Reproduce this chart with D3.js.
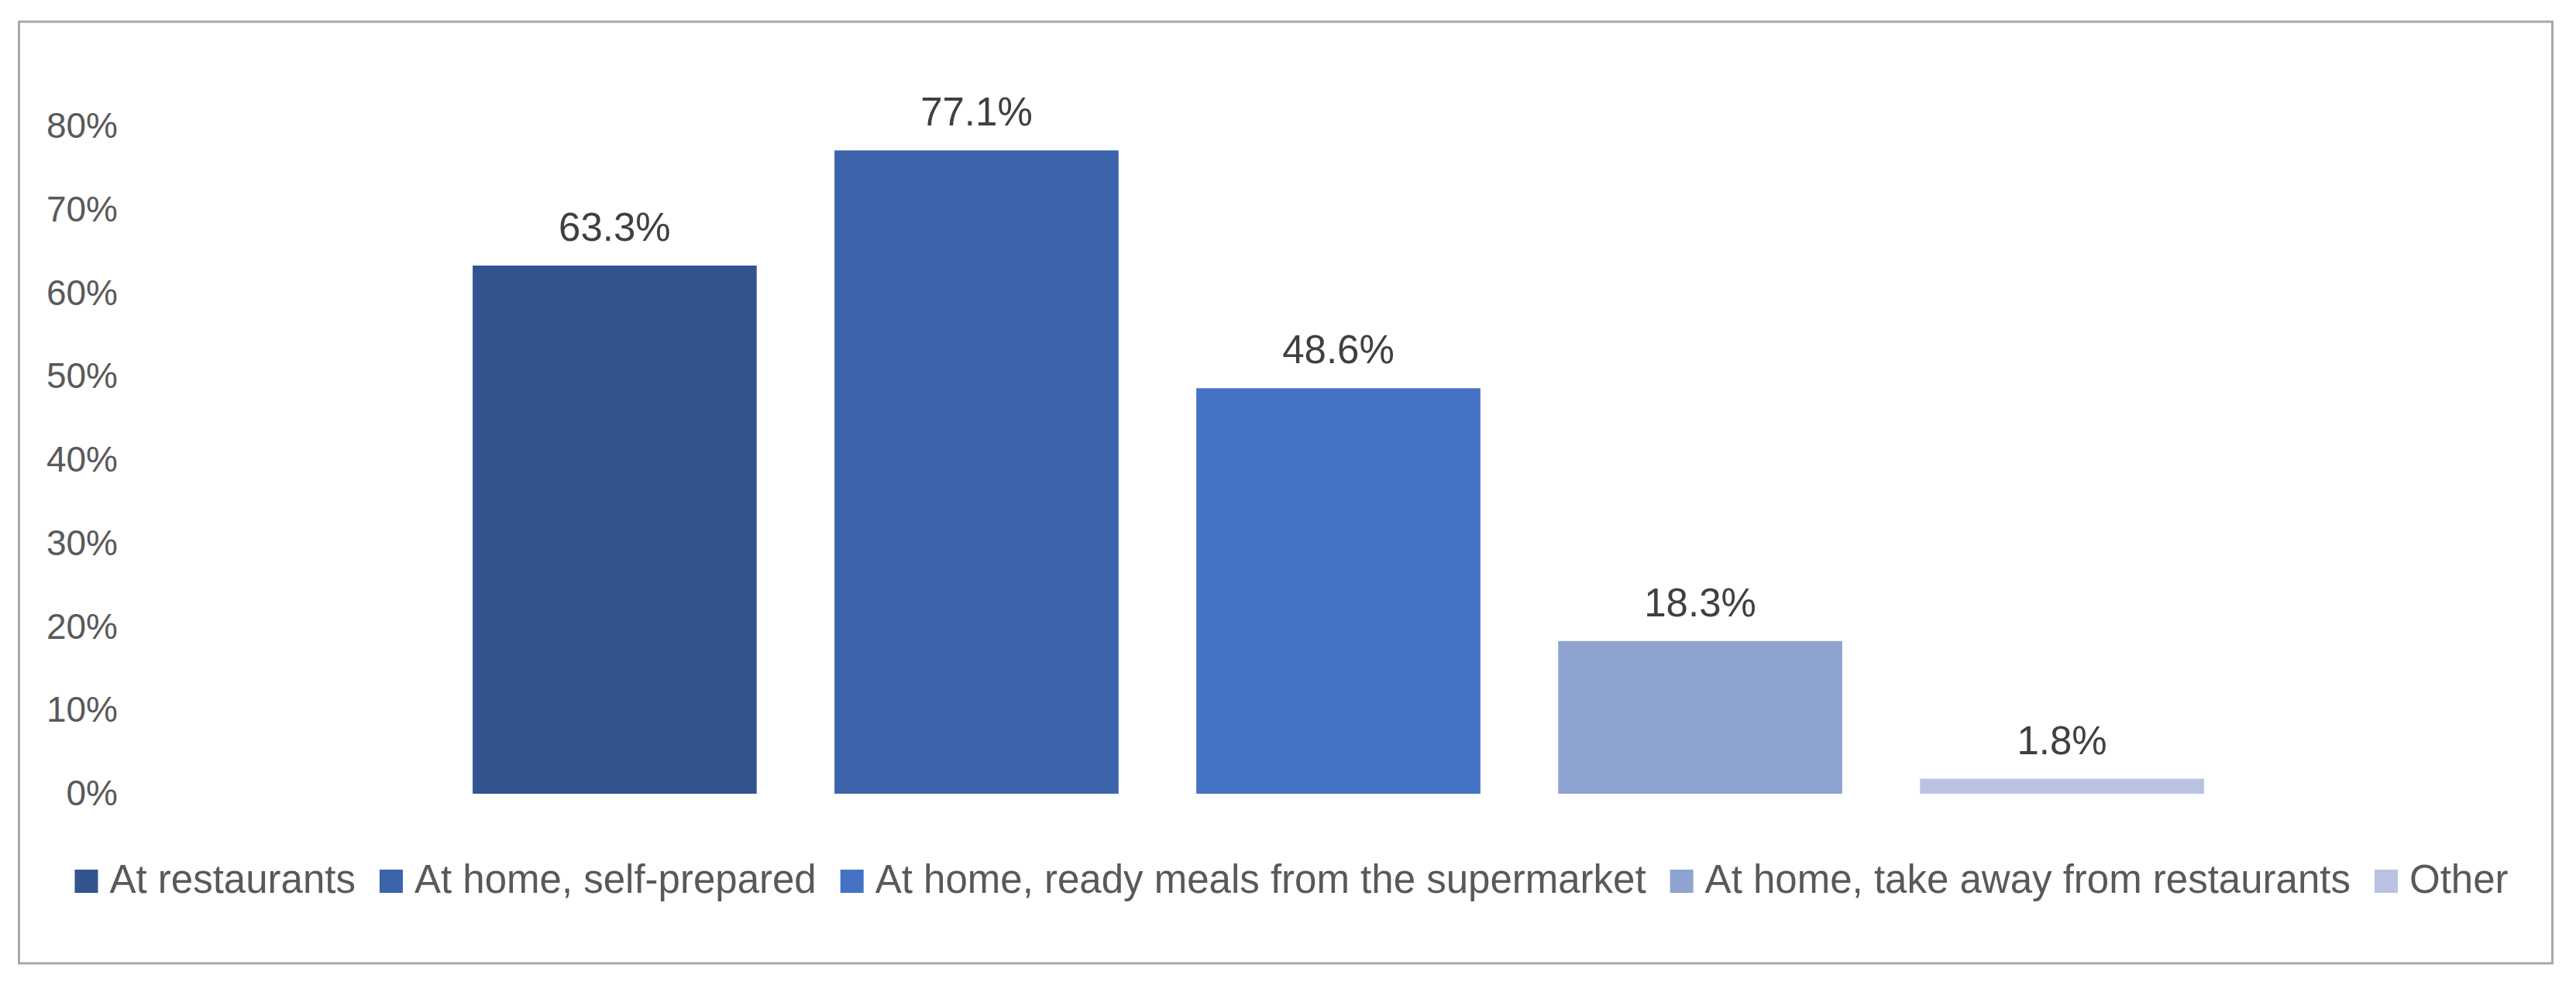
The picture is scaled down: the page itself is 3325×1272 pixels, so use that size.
<!DOCTYPE html>
<html>
<head>
<meta charset="utf-8">
<script src="https://cdn.jsdelivr.net/npm/d3@7"></script>
<style>
  html, body { margin: 0; padding: 0; background: #fff; }
  svg { display: block; }
</style>
</head>
<body>
<svg id="chart"></svg>
<script>
const series = [
  "At restaurants",
  "At home, self-prepared",
  "At home, ready meals from the supermarket",
  "At home, take away from restaurants",
  "Other"
];
const values = [0.633, 0.771, 0.486, 0.183, 0.018];
const colors = ["#31548f", "#3c64aa", "#4472c4", "#8fa3d1", "#b9c3e1"];
const yTicks = [0, 0.1, 0.2, 0.3, 0.4, 0.5, 0.6, 0.7, 0.8];

const W = 3325, H = 1272;
const font = "'Liberation Sans', Arial, sans-serif";

const svg = d3.select("#chart")
  .attr("width", W)
  .attr("height", H);

svg.append("rect")
  .attr("width", W).attr("height", H)
  .attr("fill", "#fff");

// chart border
svg.append("rect")
  .attr("x", 24.5).attr("y", 28)
  .attr("width", 3270).attr("height", 1216)
  .attr("fill", "none")
  .attr("stroke", "#a9a9a9")
  .attr("stroke-width", 3);

const x = d3.scaleBand()
  .domain(series)
  .range([165, 3290])
  .paddingInner(0.215)
  .paddingOuter(0.953);

const y = d3.scaleLinear()
  .domain([0, 0.8])
  .range([1025, 163]);

// y axis, labels only
const yAxis = svg.append("g")
  .attr("transform", "translate(164,0)")
  .call(d3.axisLeft(y).tickValues(yTicks).tickFormat(d3.format(".0%")).tickSize(0).tickPadding(12));
yAxis.select(".domain").remove();
yAxis.selectAll("text")
  .attr("font-family", font)
  .attr("font-size", 46)
  .attr("fill", "#595959");

// bars
svg.selectAll(".bar")
  .data(series)
  .enter().append("rect")
  .attr("class", "bar")
  .attr("x", d => x(d))
  .attr("width", x.bandwidth())
  .attr("y", (d, i) => y(values[i]))
  .attr("height", (d, i) => y(0) - y(values[i]))
  .attr("fill", (d, i) => colors[i]);

// value labels
svg.selectAll(".val")
  .data(series)
  .enter().append("text")
  .attr("class", "val")
  .attr("x", d => x(d) + x.bandwidth() / 2)
  .attr("y", (d, i) => y(values[i]) - 32)
  .attr("text-anchor", "middle")
  .attr("font-family", font)
  .attr("font-size", 51)
  .attr("fill", "#404040")
  .text((d, i) => d3.format(".1%")(values[i]));

// legend, centred under the chart
const sq = 30, gap = 15, spacing = 31, legendY = 1153, legendCenter = 1667;
const legend = svg.append("g");
const items = legend.selectAll(".legend")
  .data(series)
  .enter().append("g")
  .attr("class", "legend");

items.append("rect")
  .attr("width", sq).attr("height", sq)
  .attr("y", legendY - sq)
  .attr("fill", (d, i) => colors[i]);

items.append("text")
  .attr("x", sq + gap)
  .attr("y", legendY)
  .attr("font-family", font)
  .attr("font-size", 51)
  .attr("fill", "#595959")
  .text(d => d);

const widths = [];
items.each(function() {
  widths.push(sq + gap + d3.select(this).select("text").node().getComputedTextLength());
});
const total = d3.sum(widths) + spacing * (widths.length - 1);
let cx = legendCenter - total / 2;
items.attr("transform", (d, i) => {
  const t = `translate(${cx},0)`;
  cx += widths[i] + spacing;
  return t;
});
</script>
</body>
</html>
